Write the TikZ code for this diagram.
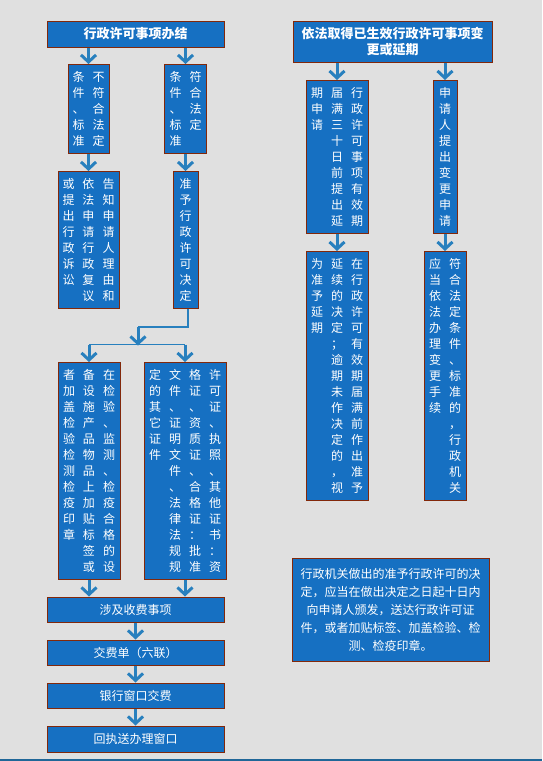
\documentclass[tikz,border=0pt]{standalone}
\usepackage{fontspec}
\setmainfont{Noto Sans CJK SC}
\usetikzlibrary{arrows.meta}
\usetikzlibrary{calc}

\definecolor{boxblue}{RGB}{22,112,194}
\definecolor{boxedge}{RGB}{130,40,10}
\definecolor{arrowblue}{RGB}{40,128,190}
\definecolor{paper}{RGB}{224,224,224}

\makeatletter
\newcommand\vcol[1]{\vtop{\baselineskip=16pt\lineskiplimit=-20pt\@tfor\vch:=#1\do{\hbox to 20pt{\hss\vch\hss}}}}
\makeatother

\begin{document}
\begin{tikzpicture}[x=1pt, y=-1pt,
        box_style/.style={rectangle, draw=boxedge, fill=boxblue, line width=1pt, text=white, inner sep=0pt, font=\fontsize{12}{16}\selectfont},
        head_style/.style={box_style, align=center, font=\fontsize{13}{16.5}\selectfont\bfseries},
        col_style/.style={box_style, anchor=north, text height=16.5pt, text depth=#1},
        edge_style/.style={draw=arrowblue, line width=3pt, -{Straight Barb[length=7pt,width=15pt,line width=3pt]}},
        link_style/.style={draw=arrowblue, line width=1.5pt}]

        \fill [paper] (0,0) rectangle (542,761);
        \useasboundingbox (0,0) rectangle (542,761);
        \fill [arrowblue!80!black] (0,758.5) rectangle (542,761);

        \node [head_style, minimum width=177pt, minimum height=26pt] (n1) at (135.5,34) {行政许可事项办结};

        \node [col_style=72.5pt, minimum width=41pt] (n2) at (88.5,64) {\vcol{条件、标准}\vcol{不符合法定}};

        \node [col_style=72.5pt, minimum width=42pt] (n3) at (185.5,64) {\vcol{条件、标准}\vcol{符合法定}};

        \node [col_style=120.5pt, minimum width=61pt] (n4) at (88.5,171) {\vcol{或提出行政诉讼}\vcol{依法申请行政复议}\vcol{告知申请人理由和}};

        \node [col_style=120.5pt, minimum width=25pt] (n5) at (185.5,171) {\vcol{准予行政许可决定}};

        \node [col_style=200.5pt, minimum width=62pt] (n6) at (89,362) {\vcol{者加盖检验检测检疫印章}\vcol{备设施产品物品上加贴标签或}\vcol{在检验、监测、检疫合格的设}};

        \node [col_style=200.5pt, minimum width=82pt] (n7) at (185,362) {\vcol{定的其它证件}\vcol{文件、证明文件、法律法规规}\vcol{格证、资质证、合格证：批准}\vcol{许可证、执照、其他证书：资}};

        \node [box_style, minimum width=177pt, minimum height=25pt] (n8) at (135.5,609.5) {涉及收费事项};

        \node [box_style, minimum width=177pt, minimum height=25pt] (n9) at (135.5,652.5) {交费单（六联）};

        \node [box_style, minimum width=177pt, minimum height=25pt] (n10) at (135.5,695.5) {银行窗口交费};

        \node [box_style, minimum width=177pt, minimum height=26pt] (n11) at (135.5,739) {回执送办理窗口};

        \node [head_style, minimum width=199pt, minimum height=41pt] (n12) at (392.5,41.5) {依法取得已生效行政许可事项变\\更或延期};

        \node [col_style=136.5pt, minimum width=62pt] (n13) at (337,80) {\vcol{期申请}\vcol{届满三十日前提出延}\vcol{行政许可事项有效期}};

        \node [col_style=136.5pt, minimum width=24pt] (n14) at (445,80) {\vcol{申请人提出变更申请}};

        \node [col_style=232.5pt, minimum width=62pt] (n15) at (337,251) {\vcol{为准予延期}\vcol{延续的决定；逾期未作决定的，视}\vcol{在行政许可有效期届满前作出准予}};

        \node [col_style=232.5pt, minimum width=42pt] (n16) at (445,251) {\vcol{应当依法办理变更手续}\vcol{符合法定条件、标准的，行政机关}};

        \node [box_style, align=center, font=\fontsize{12}{18}\selectfont, minimum width=197pt, minimum height=103pt] (n17) at (390.5,609.5) {行政机关做出的准予行政许可的决\\定，应当在做出决定之日起十日内\\向申请人颁发，送达行政许可证\\件，或者加贴标签、加盖检验、检\\测、检疫印章。};

        \coordinate (j1) at (188,327);
        \coordinate (j2) at (138,327);
        \coordinate (j3) at (138,344.5);

        \draw [edge_style] (n1.south -| n2.north) -- (n2.north);

        \draw [edge_style] (n1.south -| n3.north) -- (n3.north);

        \draw [edge_style] (n2) -- (n4);

        \draw [edge_style] (n3) -- (n5);

        \draw [link_style] (n5.south -| j1) -- (j1) -- (j2);

        \draw [edge_style] (j2) -- ([yshift=-1pt]j3);

        \draw [link_style] (n6.north |- j3) -- (n7.north |- j3);

        \draw [edge_style] (n6.north |- j3) -- (n6.north);

        \draw [edge_style] (n7.north |- j3) -- (n7.north);

        \draw [edge_style] (n6.south) -- (n6.south |- n8.north);

        \draw [edge_style] (n7.south) -- (n7.south |- n8.north);

        \draw [edge_style] (n8) -- (n9);

        \draw [edge_style] (n9) -- (n10);

        \draw [edge_style] (n10) -- (n11);

        \draw [edge_style] (n12.south -| n13.north) -- (n13.north);

        \draw [edge_style] (n12.south -| n14.north) -- (n14.north);

        \draw [edge_style] (n13) -- (n15);

        \draw [edge_style] (n14) -- (n16);

        \end{tikzpicture}
\end{document}
